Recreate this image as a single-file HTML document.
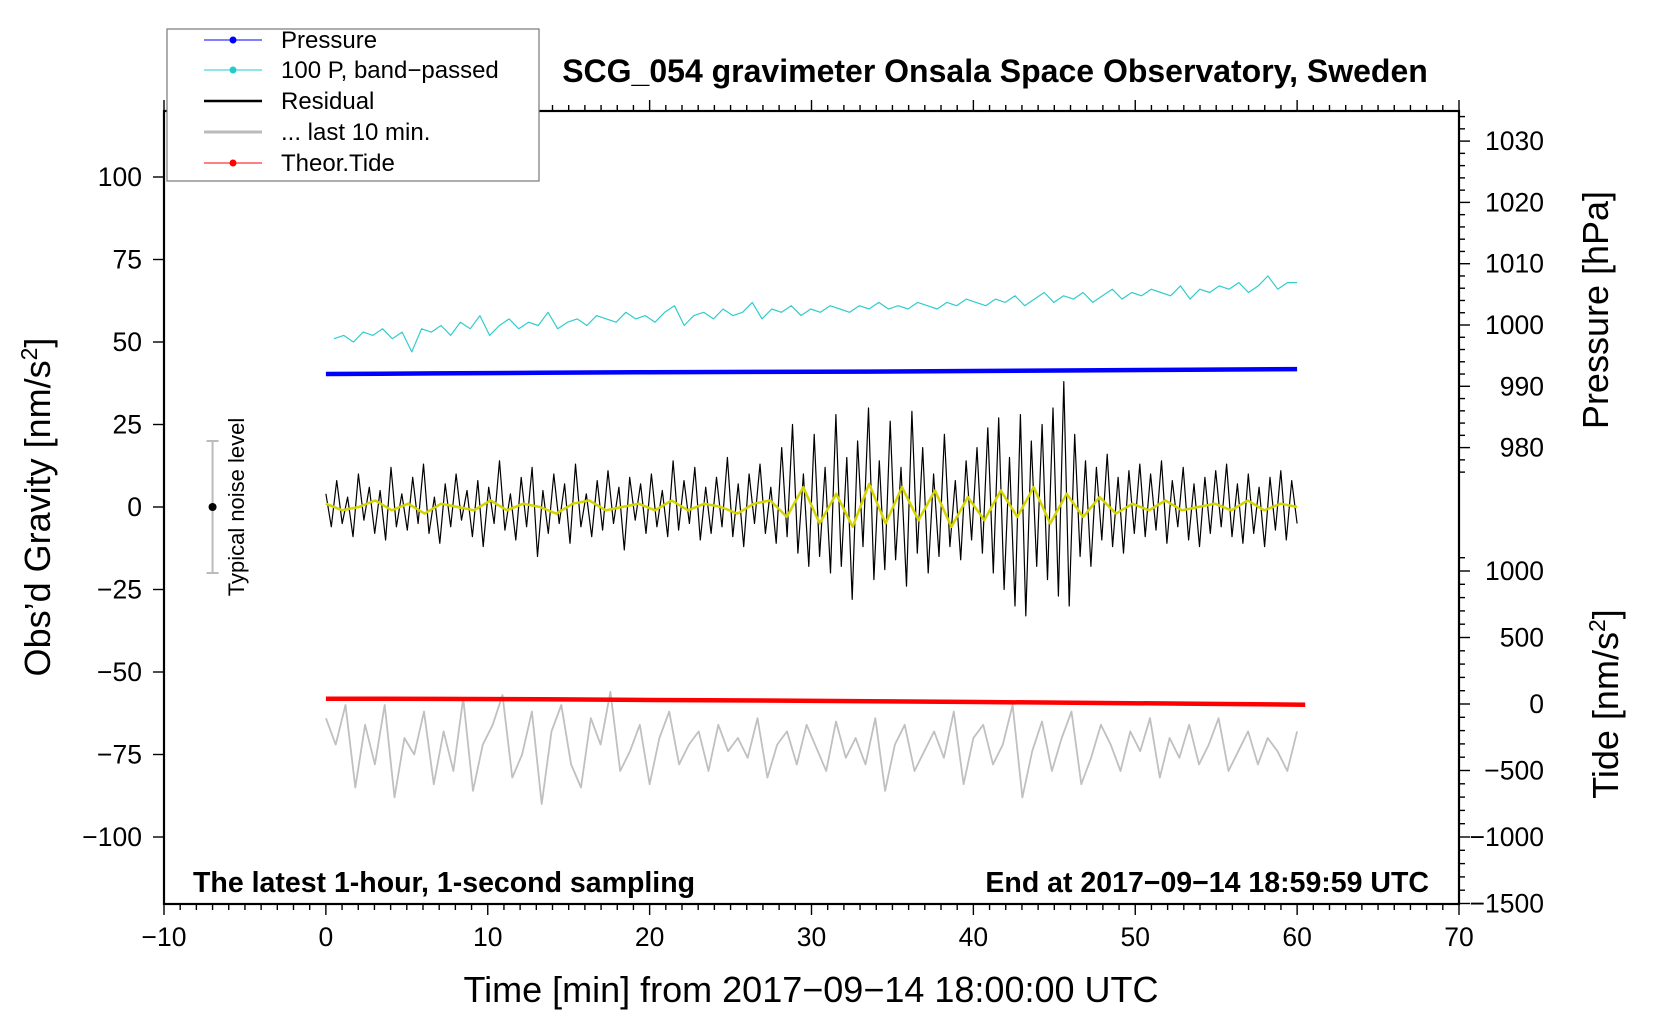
<!DOCTYPE html>
<html><head><meta charset="utf-8"><style>
html,body{margin:0;padding:0;background:#fff;}
svg{display:block;font-family:"Liberation Sans",sans-serif;}
</style></head><body>
<svg id="chart" width="1660" height="1020" viewBox="0 0 1660 1020" xmlns="http://www.w3.org/2000/svg">
<g id="marks"></g>
<g id="axes"></g>
<text x="995" y="82" text-anchor="middle" font-size="32" font-weight="bold">SCG_054 gravimeter Onsala Space Observatory, Sweden</text>
<text x="193" y="892" font-size="28.5" font-weight="bold">The latest 1-hour, 1-second sampling</text>
<text x="1429" y="892" text-anchor="end" font-size="28.5" font-weight="bold">End at 2017−09−14 18:59:59 UTC</text>
<text x="811" y="1002" text-anchor="middle" font-size="36">Time [min] from 2017−09−14 18:00:00 UTC</text>
<text transform="translate(50,507) rotate(-90)" text-anchor="middle" font-size="36">Obs’d Gravity [nm/s<tspan font-size="23" dy="-13">2</tspan><tspan dy="13">]</tspan></text>
<text transform="translate(1608,310) rotate(-90)" text-anchor="middle" font-size="36">Pressure [hPa]</text>
<text transform="translate(1618,704) rotate(-90)" text-anchor="middle" font-size="36">Tide [nm/s<tspan font-size="23" dy="-13">2</tspan><tspan dy="13">]</tspan></text>
<g>
<text transform="translate(244,507) rotate(-90)" text-anchor="middle" font-size="22">Typical noise level</text>
</g>
<g>
<rect x="167" y="29" width="372" height="152" fill="#fff" stroke="#777" stroke-width="1.2"/>
<g><line x1="204" y1="40" x2="262" y2="40" stroke="#00f" stroke-width="1"/><circle cx="233" cy="40" r="3.5" fill="#00f"/><text x="281" y="48" font-size="24">Pressure</text></g>
<g><line x1="204" y1="70" x2="262" y2="70" stroke="#2cc" stroke-width="1"/><circle cx="233" cy="70" r="3.5" fill="#2cc"/><text x="281" y="78" font-size="24">100 P, band−passed</text></g>
<g><line x1="204" y1="101" x2="262" y2="101" stroke="#000" stroke-width="2.5"/><text x="281" y="109" font-size="24">Residual</text></g>
<g><line x1="204" y1="132" x2="262" y2="132" stroke="#bbb" stroke-width="3"/><text x="281" y="140" font-size="24">... last 10 min.</text></g>
<g><line x1="204" y1="163" x2="262" y2="163" stroke="#f00" stroke-width="1"/><circle cx="233" cy="163" r="3.5" fill="#f00"/><text x="281" y="171" font-size="24">Theor.Tide</text></g>
</g>
</svg>
<script>
// ---- data ----
const xTicks = [-10,0,10,20,30,40,50,60,70];
const gravTicks = [100,75,50,25,0,-25,-50,-75,-100];
const pressTicks = [1030,1020,1010,1000,990,980];
const tideTicks = [1000,500,0,-500,-1000,-1500];
const residual = [4,-6,8,-5,3,-9,10,-4,6,-8,5,-10,12,-6,4,-7,9,-5,13,-8,3,-11,7,-6,10,-4,5,-9,8,-12,
6,-5,14,-7,4,-10,9,-6,12,-15,5,-8,10,-5,7,-11,13,-6,4,-9,8,-7,11,-5,6,-13,9,-4,7,-8,
10,-6,5,-9,14,-7,8,-5,12,-10,6,-8,9,-6,15,-9,7,-12,10,-5,13,-8,6,-11,18,-9,25,-14,10,-18,
22,-15,12,-20,28,-18,15,-28,20,-12,30,-22,14,-19,26,-16,12,-24,29,-14,18,-20,10,-15,22,-12,8,-16,14,-10,
18,-14,24,-20,27,-25,15,-30,28,-33,20,-18,25,-22,30,-27,38,-30,22,-15,14,-18,12,-10,16,-12,9,-14,11,-8,
13,-9,10,-7,14,-11,8,-6,12,-10,7,-12,9,-8,11,-6,13,-9,7,-11,10,-8,6,-12,9,-7,11,-10,8,-5];
const filtered = [1,-1,0,2,-1,1,-2,1,0,-1,2,-1,1,0,-2,1,2,-1,0,1,-1,2,-1,1,0,-2,1,2,-3,6,-5,4,-6,7,-5,6,-4,5,-6,3,-4,5,-3,6,-5,4,-3,3,-2,1,-1,2,-1,0,1,-1,2,-1,1,0];
const bandPassed = [51,52,50,53,52,54,51,53,47,54,53,55,52,56,54,58,52,55,57,54,56,55,59,54,56,57,55,58,57,56,59,57,58,56,59,61,55,58,59,57,60,58,59,62,57,60,59,61,58,60,59,61,60,59,61,60,62,60,61,60,62,61,60,62,61,63,62,61,63,62,64,61,63,65,62,64,63,65,62,64,66,63,65,64,66,65,64,67,63,66,65,67,66,68,65,67,70,66,68,68];
const last10 = [-64,-72,-60,-85,-66,-78,-60,-88,-70,-75,-62,-84,-68,-80,-58,-86,-72,-66,-57,-82,-75,-62,-90,-68,-60,-78,-85,-64,-72,-56,-80,-74,-66,-84,-70,-62,-78,-72,-68,-80,-66,-74,-70,-76,-64,-82,-72,-68,-78,-66,-73,-80,-65,-76,-70,-78,-64,-86,-72,-66,-80,-74,-68,-76,-62,-84,-70,-66,-78,-72,-60,-88,-74,-65,-80,-70,-62,-84,-76,-66,-72,-80,-68,-74,-64,-82,-70,-76,-66,-78,-72,-64,-80,-74,-68,-78,-70,-74,-80,-68];
const pressure = [992.0,992.1,992.2,992.3,992.35,992.4,992.5,992.6,992.7,992.8];
const tide = [40,38,35,30,26,20,15,8,2,-5];

// ---- scales ----
const L=164,R=1459,T=111,B=904;
const xs = m => L + (m+10)*(R-L)/80;
const ys = g => 507 - g*3.30;
const yp = p => 325 - (p-1000)*6.13;
const yt = t => 704 - t*0.1330;
const NS='http://www.w3.org/2000/svg';
const marks=document.getElementById('marks'), axes=document.getElementById('axes');
function mk(tag,attrs,parent){const e=document.createElementNS(NS,tag);for(const k in attrs)e.setAttribute(k,attrs[k]);parent.appendChild(e);return e;}
function series(arr,x0,x1,yf,color,w,name){
  const n=arr.length;let d='';
  arr.forEach((v,i)=>{const m=x0+(x1-x0)*i/(n-1);d+=(i?'L':'M')+xs(m).toFixed(1)+' '+yf(v).toFixed(1);});
  const p=mk('path',{d:d,fill:'none',stroke:color,'stroke-width':w,'stroke-linejoin':'round'},marks);
  
  
}
series(last10,0,60,ys,'#c0c0c0',1.8,'last-10-min-line');
series(bandPassed,0.5,60,ys,'#33cccc',1.2,'band-passed-pressure-line');
series(pressure,0,60,yp,'#0000ff',4.5,'pressure-line');
series(residual,0,60,ys,'#000',1.2,'residual-line');
series(filtered,0,60,ys,'#d4d400',2.5,'filtered-residual-line');
series(tide,0,60.5,yt,'#ff0000',4.5,'tide-line');

// noise bar
const nb=mk('g',{},marks);


mk('line',{x1:xs(-7),x2:xs(-7),y1:ys(20),y2:ys(-20),stroke:'#bbb','stroke-width':2},nb);
mk('line',{x1:xs(-7)-6,x2:xs(-7)+6,y1:ys(20),y2:ys(20),stroke:'#bbb','stroke-width':2},nb);
mk('line',{x1:xs(-7)-6,x2:xs(-7)+6,y1:ys(-20),y2:ys(-20),stroke:'#bbb','stroke-width':2},nb);
mk('circle',{cx:xs(-7),cy:ys(0),r:4,fill:'#000'},nb);

// frame
const fr=mk('rect',{x:L,y:T,width:R-L,height:B-T,fill:'none',stroke:'#000','stroke-width':2.2},axes);


for(let m=-10;m<=70;m++){
  const maj=m%10===0,len=maj?11:6,x=xs(m);
  mk('line',{x1:x,x2:x,y1:B,y2:B+len,stroke:'#000','stroke-width':1.4},axes);
  mk('line',{x1:x,x2:x,y1:T,y2:T-len,stroke:'#000','stroke-width':1.4},axes);
}
xTicks.forEach(v=>{
  const t=mk('text',{x:xs(v),y:946,'text-anchor':'middle','font-size':26.5},axes);
  t.textContent=String(v).replace('-','−');
  
  
});
gravTicks.forEach(v=>{
  mk('line',{x1:L,x2:L-11,y1:ys(v),y2:ys(v),stroke:'#000','stroke-width':1.4},axes);
  const t=mk('text',{x:L-22,y:ys(v)+9,'text-anchor':'end','font-size':26.5},axes);
  t.textContent=String(v).replace('-','−');
  
  
});
for(let p=976;p<=1034;p+=2){
  const maj=p%10===0;
  mk('line',{x1:R,x2:R+(maj?11:6),y1:yp(p),y2:yp(p),stroke:'#000','stroke-width':1.4},axes);
}
pressTicks.forEach(v=>{
  const t=mk('text',{x:1544,y:yp(v)+9,'text-anchor':'end','font-size':26.5},axes);
  t.textContent=v;
  
  
});
for(let v=-1500;v<=1100;v+=100){
  const maj=v%500===0;
  mk('line',{x1:R,x2:R+(maj?11:6),y1:yt(v),y2:yt(v),stroke:'#000','stroke-width':1.4},axes);
}
tideTicks.forEach(v=>{
  const t=mk('text',{x:1544,y:yt(v)+9,'text-anchor':'end','font-size':26.5},axes);
  t.textContent=String(v).replace('-','−');
  
  
});
</script>
</body></html>
